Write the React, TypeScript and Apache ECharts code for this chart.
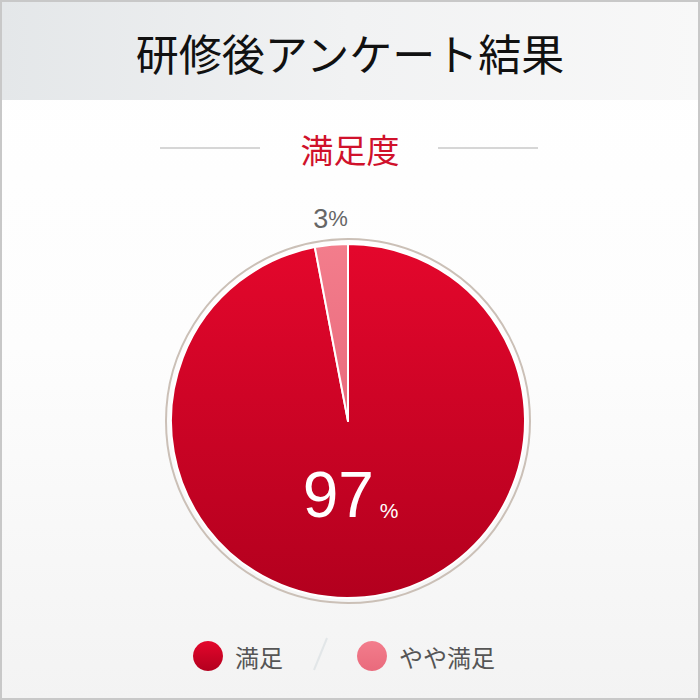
import React, { useEffect, useRef } from "react";
import * as echarts from "echarts";

const titleText = "研修後アンケート結果";
const subtitleText = "満足度";
const categories = ["満足", "やや満足"];
const values = [97, 3];

const CJK = '"Noto Sans CJK JP", "Noto Sans", sans-serif';
const NUM = '"Liberation Sans", Arial, sans-serif';

export default function App() {
  const ref = useRef<HTMLDivElement>(null);
  useEffect(() => {
    document.body.style.margin = "0";
    if (!ref.current) return;
    const chart = echarts.init(ref.current, undefined, { renderer: "svg" });
    const cx = 348;
    const cy = 421;
    const r = 177;

    const mainGrad = new echarts.graphic.LinearGradient(0, 0, 0, 1, [
      { offset: 0, color: "#e4072c" },
      { offset: 1, color: "#b3001e" },
    ]);
    const lightGrad = new echarts.graphic.LinearGradient(0, 0, 0, 1, [
      { offset: 0, color: "#f37d8c" },
      { offset: 1, color: "#e96a7c" },
    ]);
    const colors = [mainGrad, lightGrad];

    const data = categories.map((name, i) => {
      const item: any = {
        name,
        value: values[i],
        itemStyle: { color: colors[i] },
      };
      if (i === 0) {
        item.label = {
          position: "inside",
          offset: [-6, -17],
          formatter: (p: any) => `{big|${p.value}}{pct|%}`,
          rich: {
            big: { fontSize: 64, color: "#ffffff", fontFamily: NUM, verticalAlign: "bottom" },
            pct: { fontSize: 21, color: "#ffffff", fontFamily: NUM, padding: [0, 0, 6, 6], verticalAlign: "bottom" },
          },
        };
      } else {
        item.label = {
          position: "outside",
          offset: [24, 0],
          formatter: (p: any) => `{num|${p.value}}{pct|%}`,
          rich: {
            num: { fontSize: 27, color: "#666666", fontFamily: NUM },
            pct: { fontSize: 22, color: "#666666", fontFamily: NUM },
          },
        };
        item.labelLine = { show: false, length: 26, length2: 0 };
      }
      return item;
    });

    chart.setOption({
      animation: false,
      backgroundColor: "transparent",
      graphic: [
        {
          type: "rect",
          z: -20,
          shape: { x: 0, y: 0, width: 700, height: 700 },
          style: {
            fill: new echarts.graphic.LinearGradient(0, 0, 0, 1, [
              { offset: 0, color: "#ffffff" },
              { offset: 0.5, color: "#fdfdfd" },
              { offset: 1, color: "#f3f3f3" },
            ]),
          },
          silent: true,
        },
        {
          type: "rect",
          z: -19,
          shape: { x: 2, y: 2, width: 696, height: 98 },
          style: {
            fill: new echarts.graphic.LinearGradient(0, 0, 1, 0, [
              { offset: 0, color: "#e4e7e9" },
              { offset: 0.5, color: "#f1f2f3" },
              { offset: 1, color: "#f8f8f8" },
            ]),
          },
          silent: true,
        },
        {
          type: "rect",
          z: -18,
          shape: { x: 1, y: 1, width: 698, height: 698 },
          style: { fill: "none", stroke: "#c8c8c8", lineWidth: 2 },
          silent: true,
        },
        {
          type: "text",
          z: 10,
          x: 350,
          y: 52,
          style: {
            text: titleText,
            fill: "#111111",
            font: `43px ${CJK}`,
            align: "center",
            verticalAlign: "middle",
          },
        },
        {
          type: "text",
          z: 10,
          x: 350,
          y: 149,
          style: {
            text: subtitleText,
            fill: "#d0112b",
            font: `33px ${CJK}`,
            align: "center",
            verticalAlign: "middle",
          },
        },
        {
          type: "line",
          z: 10,
          shape: { x1: 160, y1: 148, x2: 260, y2: 148 },
          style: { stroke: "#c8c8c8", lineWidth: 1.5 },
        },
        {
          type: "line",
          z: 10,
          shape: { x1: 438, y1: 148, x2: 538, y2: 148 },
          style: { stroke: "#c8c8c8", lineWidth: 1.5 },
        },
        {
          type: "circle",
          z: 1,
          shape: { cx, cy, r: 182 },
          style: { fill: "none", stroke: "#cbc0b7", lineWidth: 2 },
        },
        {
          type: "line",
          z: 10,
          shape: { x1: 327, y1: 638, x2: 314, y2: 670 },
          style: { stroke: "#e2e6e8", lineWidth: 2 },
        },
      ],
      legend: {
        data: categories,
        left: 188,
        top: 636,
        icon: "circle",
        itemWidth: 30,
        itemHeight: 30,
        itemGap: 74,
        itemStyle: { borderWidth: 0 },
        textStyle: {
          fontSize: 24,
          color: "#555555",
          fontFamily: CJK,
          padding: [0, 0, 0, 7],
        },
        selectedMode: false,
      },
      series: [
        {
          type: "pie",
          center: [cx, cy],
          radius: [0, r],
          startAngle: 90,
          clockwise: true,
          avoidLabelOverlap: false,
          itemStyle: { borderColor: "#ffffff", borderWidth: 2 },
          emphasis: { disabled: true },
          data,
        },
      ],
    });
    return () => chart.dispose();
  }, []);
  return <div ref={ref} style={{ width: 700, height: 700 }} />;
}
